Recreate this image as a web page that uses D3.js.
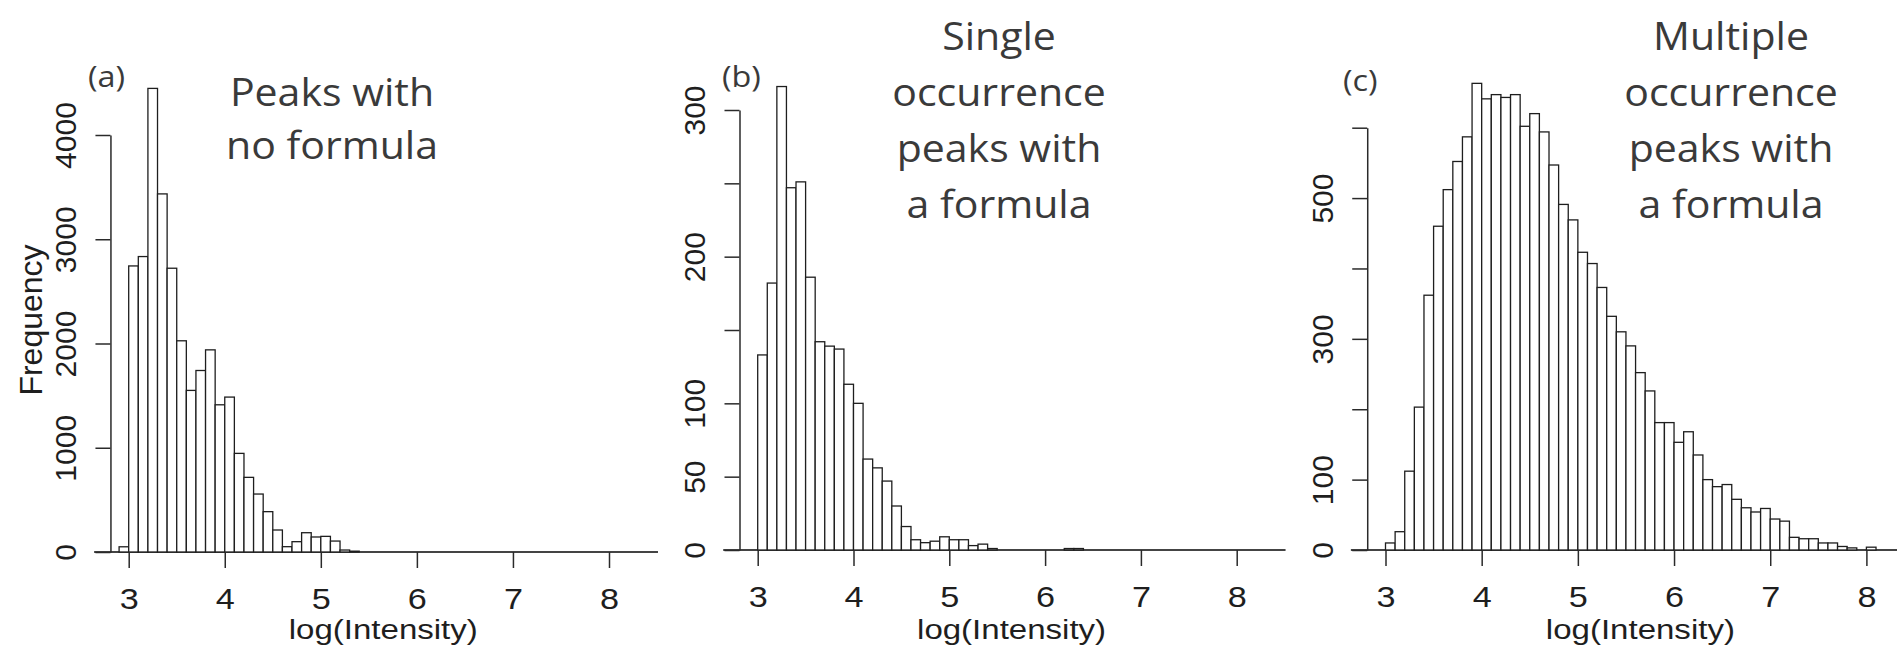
<!doctype html>
<html>
  <head>
    <script src="https://cdn.jsdelivr.net/npm/d3@7"></script>
    <style>
      body, html {
        margin: 0;
        background: #fff;
      }
      svg {
        display: block;
      }
      rect.bar {
        fill: #fff;
        stroke: #1e1e1e;
        stroke-width: 1.3px;
      }
      line.base {
        stroke: #444;
        stroke-width: 2px;
      }
      .axis path, .axis line {
        stroke: #2a2a2a;
        stroke-width: 1.5px;
      }
      .axis text, text.lab {
        font-family: "Liberation Sans", Arial, sans-serif;
        fill: #1e1e1e;
      }
      text.note {
        font-family: "Open Sans", sans-serif;
        fill: #3a3a3a;
      }
    </style>
  </head>
  <body>
    <svg width="1897" height="648"></svg>
    <script>
      // histogram bins are 0.1 wide in log(Intensity)
      var binWidth = 0.1;
      var xTicks = [3, 4, 5, 6, 7, 8];
      var xTitle = "log(Intensity)";
      var yTitle = "Frequency";

      // (a) peaks with no formula
      var aStart = 2.9;
      var aCounts = [50, 2744, 2834, 4447, 3435, 2722, 2026, 1550, 1741, 1939,
        1412, 1486, 946, 716, 556, 387, 211, 51, 99, 185,
        144, 150, 105, 19, 8];
      var aTicks = [0, 1000, 2000, 3000, 4000];
      var aTickLabels = [0, 1000, 2000, 3000, 4000];
      var aTitle = ["Peaks with", "no formula"];

      // (b) single occurrence peaks with a formula
      var bStart = 3.0;
      var bCounts = [133, 182, 316, 247, 251, 186, 142, 139, 137, 113,
        100, 62, 56, 47, 30, 16, 7, 5, 6, 9,
        7, 7, 3, 4, 1, 0, 0, 0, 0, 0,
        0, 0, 1, 1];
      var bTicks = [0, 50, 100, 150, 200, 250, 300];
      var bTickLabels = [0, 50, 100, 200, 300];
      var bTitle = ["Single", "occurrence", "peaks with", "a formula"];

      // (c) multiple occurrence peaks with a formula
      var cStart = 3.0;
      var cCounts = [10, 26, 112, 203, 362, 460, 512, 552, 587, 663,
        641, 647, 643, 647, 602, 620, 594, 547, 491, 469,
        423, 407, 373, 332, 310, 290, 252, 226, 181, 181,
        153, 168, 135, 100, 90, 93, 72, 60, 54, 59,
        44, 41, 18, 16, 16, 10, 10, 5, 3, 0,
        4];
      var cTicks = [0, 100, 200, 300, 400, 500, 600];
      var cTickLabels = [0, 100, 300, 500];
      var cTitle = ["Multiple", "occurrence", "peaks with", "a formula"];

      var panels = [
        {start: aStart, counts: aCounts, ticks: aTicks, tickLabels: aTickLabels, title: aTitle, tag: "(a)",
          x3: 128.7, x8: 609, y0: 552, yTop: 135, tagX: 88, tagY: 87, titleX: 332, titleY: 106, lineH: 53, first: 1},
        {start: bStart, counts: bCounts, ticks: bTicks, tickLabels: bTickLabels, title: bTitle, tag: "(b)",
          x3: 757.7, x8: 1236.7, y0: 550, yTop: 110, tagX: 722, tagY: 87, titleX: 999, titleY: 50, lineH: 56, first: 0},
        {start: cStart, counts: cCounts, ticks: cTicks, tickLabels: cTickLabels, title: cTitle, tag: "(c)",
          x3: 1385.5, x8: 1866.4, y0: 550, yTop: 127.7, tagX: 1343, tagY: 91, titleX: 1731, titleY: 50, lineH: 56, first: 0}
      ];

      var svg = d3.select("svg");

      panels.forEach(function (p, k) {
        var g = svg.append("g");
        var maxTick = d3.max(p.ticks);

        var x = d3.scaleLinear().domain([3, 8]).range([p.x3, p.x8]);
        var y = d3.scaleLinear().domain([0, maxTick]).range([p.y0, p.yTop]);

        var bins = p.counts.map(function (c, i) {
          return {x0: p.start + i * binWidth, x1: p.start + (i + 1) * binWidth, n: c};
        }).filter(d => d.n > 0);

        // baseline that runs across the plot region
        g.append("line")
          .attr("class", "base")
          .attr("x1", x(2.64)).attr("x2", x(8.51))
          .attr("y1", p.y0).attr("y2", p.y0);

        g.selectAll("rect.bar")
          .data(bins)
          .enter()
          .append("rect")
            .attr("class", "bar")
            .attr("x", d => x(d.x0))
            .attr("width", d => x(d.x1) - x(d.x0))
            .attr("y", d => y(d.n))
            .attr("height", d => p.y0 - y(d.n));

        // y axis, R style with rotated labels, some dropped
        var yAxis = g.append("g")
          .attr("class", "axis")
          .attr("transform", "translate(" + x(2.81) + ",0)")
          .call(d3.axisLeft(y)
            .tickValues(p.ticks)
            .tickSize(15)
            .tickSizeOuter(0)
            .tickFormat(d => p.tickLabels.indexOf(d) >= 0 ? d : ""));
        yAxis.selectAll("text")
          .attr("transform", "rotate(-90)")
          .attr("x", 0)
          .attr("y", -34)
          .attr("dy", 0)
          .attr("text-anchor", "middle")
          .style("font-size", "30px");

        // x axis ticks hang under the baseline
        var xAxis = g.append("g")
          .attr("class", "axis")
          .attr("transform", "translate(0," + p.y0 + ")")
          .call(d3.axisBottom(x)
            .tickValues(xTicks)
            .tickSize(16)
            .tickSizeOuter(0)
            .tickFormat(d3.format("d")));
        xAxis.select(".domain").remove();
        xAxis.selectAll("text")
          .attr("y", 0)
          .attr("dy", 0)
          .attr("transform", "translate(0,57) scale(1.18,1)")
          .style("font-size", "29px");

        g.append("text")
          .attr("class", "lab")
          .attr("text-anchor", "middle")
          .attr("transform", "translate(" + x(5.65) + ",639) scale(1.18,1)")
          .style("font-size", "28px")
          .text(xTitle);

        if (p.first) {
          g.append("text")
            .attr("class", "lab")
            .attr("text-anchor", "middle")
            .attr("transform", "translate(42,320) rotate(-90)")
            .style("font-size", "32px")
            .text(yTitle);
        }

        g.append("text")
          .attr("class", "note")
          .attr("transform", "translate(" + p.tagX + "," + p.tagY + ") scale(1.08,1)")
          .style("font-size", "30px")
          .text(p.tag);

        g.selectAll("text.title")
          .data(p.title)
          .enter()
          .append("text")
            .attr("class", "note title")
            .attr("text-anchor", "middle")
            .attr("transform", (d, i) => "translate(" + p.titleX + "," + (p.titleY + i * p.lineH) + ") scale(1.08,1)")
            .style("font-size", "38px")
            .text(d => d);
      });
    </script>
  </body>
</html>
